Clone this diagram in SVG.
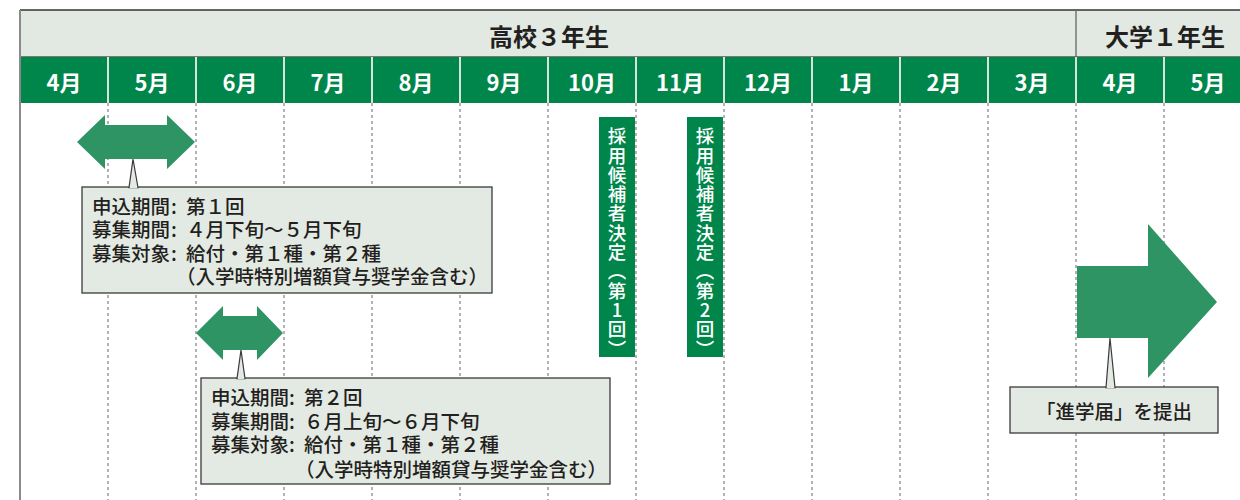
<svg xmlns="http://www.w3.org/2000/svg" width="1240" height="500" viewBox="0 0 1240 500">
<defs>
<style>
.hdr{font-family:"Noto Sans CJK JP","Noto Sans CJK SC",sans-serif;font-weight:700;font-size:24px;fill:#231f20;text-anchor:middle;dominant-baseline:central}
.mon{font-family:"Noto Sans CJK JP","Noto Sans CJK SC",sans-serif;font-weight:700;font-size:22px;fill:#ffffff;text-anchor:middle;dominant-baseline:central}
.grid{stroke:#8a8a8a;stroke-width:1.3;stroke-dasharray:3 3;fill:none}
.div{stroke:#d9e3d9;stroke-width:2}
.arr{fill:#2e9463}
.call{fill:#e3eae3;stroke:#3a3a3a;stroke-width:1.3}
.ct{font-family:"Noto Sans CJK JP","Noto Sans CJK SC",sans-serif;font-weight:500;font-size:19.5px;fill:#231f20;dominant-baseline:central}
.cc{text-anchor:middle}
.vbox{fill:#00864a}
.vt{font-family:"Noto Sans CJK JP","Noto Sans CJK SC",sans-serif;font-weight:500;font-size:18.5px;fill:#ffffff;writing-mode:vertical-rl;text-orientation:upright;letter-spacing:0.8px}
</style>
</defs>
<rect width="1240" height="500" fill="#ffffff"/>
<g id="header">
<rect x="20" y="10" width="1230" height="47" fill="#e2e9e2"/>
<line x1="20" y1="10" x2="1240" y2="10" stroke="#333" stroke-width="1.5"/>
<line x1="1076" y1="10" x2="1076" y2="57" stroke="#666" stroke-width="1.3"/>
<line x1="20" y1="57" x2="1240" y2="57" stroke="#555" stroke-width="1.3"/>
<text class="hdr" x="549" y="35">高校３年生</text>
<text class="hdr" x="1165" y="35">大学１年生</text>
</g>
<g id="months">
<rect x="20" y="57" width="1230" height="46" fill="#00864a"/>
<g class="div">
<line x1="108" y1="57" x2="108" y2="103"/><line x1="196" y1="57" x2="196" y2="103"/><line x1="284" y1="57" x2="284" y2="103"/><line x1="372" y1="57" x2="372" y2="103"/><line x1="460" y1="57" x2="460" y2="103"/><line x1="548" y1="57" x2="548" y2="103"/><line x1="636" y1="57" x2="636" y2="103"/><line x1="724" y1="57" x2="724" y2="103"/><line x1="812" y1="57" x2="812" y2="103"/><line x1="900" y1="57" x2="900" y2="103"/><line x1="988" y1="57" x2="988" y2="103"/><line x1="1076" y1="57" x2="1076" y2="103"/><line x1="1164" y1="57" x2="1164" y2="103"/>
</g>
<text class="mon" x="64" y="81">4月</text>
<text class="mon" x="152" y="81">5月</text>
<text class="mon" x="240" y="81">6月</text>
<text class="mon" x="328" y="81">7月</text>
<text class="mon" x="416" y="81">8月</text>
<text class="mon" x="504" y="81">9月</text>
<text class="mon" x="592" y="81">10月</text>
<text class="mon" x="680" y="81">11月</text>
<text class="mon" x="768" y="81">12月</text>
<text class="mon" x="856" y="81">1月</text>
<text class="mon" x="944" y="81">2月</text>
<text class="mon" x="1032" y="81">3月</text>
<text class="mon" x="1120" y="81">4月</text>
<text class="mon" x="1208" y="81">5月</text>
</g>
<g id="grid">
<line x1="20" y1="10" x2="20" y2="500" stroke="#8a8a8a" stroke-width="2"/>
<g class="grid">
<line x1="108" y1="103" x2="108" y2="500"/><line x1="196" y1="103" x2="196" y2="500"/><line x1="284" y1="103" x2="284" y2="500"/><line x1="372" y1="103" x2="372" y2="500"/><line x1="460" y1="103" x2="460" y2="500"/><line x1="548" y1="103" x2="548" y2="500"/><line x1="636" y1="103" x2="636" y2="500"/><line x1="724" y1="103" x2="724" y2="500"/><line x1="812" y1="103" x2="812" y2="500"/><line x1="900" y1="103" x2="900" y2="500"/><line x1="988" y1="103" x2="988" y2="500"/><line x1="1076" y1="103" x2="1076" y2="500"/><line x1="1164" y1="103" x2="1164" y2="500"/>
</g>
</g>
<g id="period1">
<polygon class="arr" points="77,142 105,115 105,125 167,125 167,115 195,142 167,169 167,159 105,159 105,169"/>
<rect class="call" x="82" y="187" width="410" height="106"/>
<polygon points="129,187.6 133,159 138,187.6" fill="#e3eae3" stroke="#3a3a3a" stroke-width="1.2"/>
<line x1="129.8" y1="187" x2="137.2" y2="187" stroke="#e3eae3" stroke-width="2"/>
<text class="ct"><tspan x="92" y="205">申込期間</tspan><tspan x="171" y="205">:</tspan><tspan x="186" y="205">第１回</tspan><tspan x="92" y="228">募集期間</tspan><tspan x="171" y="228">:</tspan><tspan x="186" y="228">４月下旬～５月下旬</tspan><tspan x="92" y="252">募集対象</tspan><tspan x="171" y="252">:</tspan><tspan x="186" y="252">給付・第１種・第２種</tspan><tspan x="176" y="275">（入学時特別増額貸与奨学金含む）</tspan></text>
</g>
<g id="period2">
<polygon class="arr" points="196,333 223,306 223,316 257,316 257,306 283,333 257,360 257,350 223,350 223,360"/>
<rect class="call" x="201" y="378" width="409" height="106"/>
<polygon points="237,378.6 241,350 245,378.6" fill="#e3eae3" stroke="#3a3a3a" stroke-width="1.2"/>
<line x1="237.8" y1="378" x2="244.2" y2="378" stroke="#e3eae3" stroke-width="2"/>
<text class="ct"><tspan x="211" y="396">申込期間</tspan><tspan x="289" y="396">:</tspan><tspan x="304" y="396">第２回</tspan><tspan x="211" y="420">募集期間</tspan><tspan x="289" y="420">:</tspan><tspan x="304" y="420">６月上旬～６月下旬</tspan><tspan x="211" y="443">募集対象</tspan><tspan x="289" y="443">:</tspan><tspan x="304" y="443">給付・第１種・第２種</tspan><tspan x="295" y="468">（入学時特別増額貸与奨学金含む）</tspan></text>
</g>
<g id="decision1">
<rect class="vbox" x="599" y="117" width="36" height="240"/>
<text class="vt" x="617" y="127">採用候補者決定（第1回）</text>
</g>
<g id="decision2">
<rect class="vbox" x="687" y="117" width="36" height="240"/>
<text class="vt" x="705" y="127">採用候補者決定（第2回）</text>
</g>
<g id="enrollment">
<polygon class="arr" points="1077,266 1148,266 1148,224 1217,302 1148,378 1148,338 1077,338"/>
<rect class="call" x="1010" y="387" width="208" height="46"/>
<polygon points="1106,387.6 1110,338 1115,387.6" fill="#e3eae3" stroke="#3a3a3a" stroke-width="1.2"/>
<line x1="1106.8" y1="387" x2="1114.2" y2="387" stroke="#e3eae3" stroke-width="2"/>
<text class="ct cc" x="1114" y="410">「進学届」を提出</text>
</g>
</svg>
